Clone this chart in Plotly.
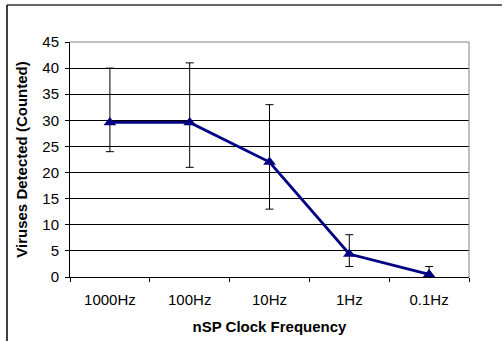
import plotly.graph_objects as go

categories = ["1000Hz", "100Hz", "10Hz", "1Hz", "0.1Hz"]
values = [29.6, 29.6, 22.0, 4.4, 0.5]
err_plus = [10.4, 11.4, 11.0, 3.7, 1.5]
err_minus = [5.6, 8.6, 9.0, 2.4, 0.5]
y_ticks = [0, 5, 10, 15, 20, 25, 30, 35, 40, 45]

fig = go.Figure()
fig.add_trace(go.Scatter(
    x=categories, y=values, mode="lines+markers",
    line=dict(color="#000080", width=2.8),
    marker=dict(symbol="triangle-up", size=11, color="#000080"),
    error_y=dict(type="data", symmetric=False, array=err_plus, arrayminus=err_minus,
                 color="black", thickness=1, width=4),
    showlegend=False,
))

font = "Liberation Sans, Arial, sans-serif"
fig.update_layout(
    width=502, height=341,
    margin=dict(l=70, r=33, t=42, b=64),
    paper_bgcolor="white", plot_bgcolor="white",
    font=dict(family=font, size=15, color="black"),
    xaxis=dict(
        type="category", tickson="boundaries", ticks="outside", ticklen=4,
        tickcolor="black", showgrid=False, showline=True, linecolor="black",
        linewidth=1, mirror=False, tickfont=dict(size=15), automargin=False,
        ticklabelstandoff=9,
        title=dict(text="<b>nSP Clock Frequency</b>", font=dict(size=15), standoff=14),
        range=[-0.5, 4.5],
    ),
    yaxis=dict(
        range=[0, 45], tickvals=y_ticks, ticks="outside", ticklen=4, tickcolor="black",
        showgrid=True, gridcolor="black", gridwidth=1, showline=True,
        linecolor="black", linewidth=1, zeroline=False, tickfont=dict(size=15),
        ticklabelstandoff=3, automargin=False,
        title=dict(text="<b>Viruses Detected (Counted)</b>", font=dict(size=15), standoff=11),
    ),
)
# plot-area border (top and right, gray)
fig.add_shape(type="line", xref="paper", yref="paper", x0=0, x1=1, y0=1, y1=1,
              line=dict(color="gray", width=1))
fig.add_shape(type="line", xref="paper", yref="paper", x0=1, x1=1, y0=0, y1=1,
              line=dict(color="gray", width=1))
# outer chart border (left and top visible)
fig.add_shape(type="line", xref="paper", yref="paper", x0=(7-70)/399, x1=1.2,
              y0=1+(42-5)/235, y1=1+(42-5)/235, line=dict(color="#333333", width=1.5))
fig.add_shape(type="line", xref="paper", yref="paper", x0=(7-70)/399, x1=(7-70)/399,
              y0=-0.3, y1=1+(42-5)/235, line=dict(color="black", width=1.5))

fig.write_html("out.html")
